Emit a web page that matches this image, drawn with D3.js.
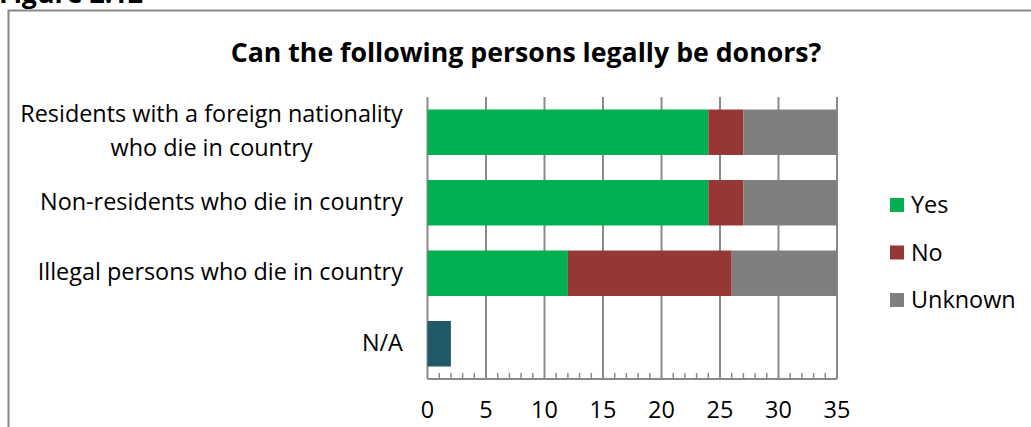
<!DOCTYPE html>
<html><head><meta charset="utf-8">
<script src="https://cdn.jsdelivr.net/npm/d3@7"></script>
<style>body{margin:0;background:#fff}svg{display:block}text{font-family:"Open Sans","Noto Sans",sans-serif;fill:#000}</style>
</head><body><svg id="c" width="1031" height="427"></svg>
<script>
const categories = [["Residents with a foreign nationality","who die in country"],["Non-residents who die in country"],["Illegal persons who die in country"],["N/A"]];
const catKeys = ["Residents","Non-residents","Illegal","N/A"];
const seriesNames = ["Yes","No","Unknown"];
const yesValues = [24,24,12,0];
const noValues = [3,3,14,0];
const unknownValues = [8,8,9,0];
const naValues = [0,0,0,2];
const tickValues = [0,5,10,15,20,25,30,35];
const colors = {Yes:"#00B050",No:"#953735",Unknown:"#7F7F7F",NA:"#215968"};

const svg = d3.select("#c");
const x = d3.scaleLinear().domain([0,35]).range([427.5,837]);
const y = d3.scaleBand().domain(catKeys).range([97,379]).paddingInner(0.355).paddingOuter(0.1775);

function fit(sel, target){const w=sel.node().getComputedTextLength();const fs=parseFloat(sel.attr("font-size"));sel.attr("font-size",fs*target/w);}

// frame
svg.append("rect").attr("x",8.5).attr("y",10.5).attr("width",1040).attr("height",430).attr("fill","none").attr("stroke","#888").attr("stroke-width",2);
// figure label (cut off at top, as in the reference)
const fl=svg.append("text").attr("x",-1).attr("y",3).attr("font-size",22).attr("font-weight","bold").text("Figure 2.12");
fit(fl,144);
// title
const t=svg.append("text").attr("x",526).attr("y",62).attr("text-anchor","middle").attr("font-size",24).attr("font-weight","bold").text("Can the following persons legally be donors?");
fit(t,591);

// gridlines
svg.append("g").selectAll("line").data(tickValues).join("line")
 .attr("x1",d=>x(d)).attr("x2",d=>x(d)).attr("y1",97).attr("y2",379)
 .attr("stroke","#8a8a8a").attr("stroke-width",2);

// bars
const stackData = catKeys.map((k,i)=>({key:k,Yes:yesValues[i],No:noValues[i],Unknown:unknownValues[i]}));
const stack = d3.stack().keys(seriesNames)(stackData);
svg.append("g").selectAll("g").data(stack).join("g").attr("fill",d=>colors[d.key])
 .selectAll("rect").data(d=>d.filter(p=>p[1]>p[0])).join("rect")
 .attr("x",d=>x(d[0])).attr("width",d=>x(d[1])-x(d[0]))
 .attr("y",d=>y(d.data.key)).attr("height",y.bandwidth());
svg.append("g").selectAll("rect").data(catKeys.map((k,i)=>({k,v:naValues[i]})).filter(d=>d.v>0)).join("rect")
 .attr("fill",colors.NA).attr("x",x(0)).attr("width",d=>x(d.v)-x(0)).attr("y",d=>y(d.k)).attr("height",y.bandwidth());

// axis line & minor ticks
svg.append("line").attr("x1",x(0)).attr("x2",x(35)).attr("y1",379).attr("y2",379).attr("stroke","#8a8a8a").attr("stroke-width",2);
const minor=d3.range(0,36).filter(v=>v%5!==0);
svg.append("g").selectAll("line").data(minor).join("line")
 .attr("x1",d=>x(d)).attr("x2",d=>x(d)).attr("y1",373).attr("y2",379).attr("stroke","#8a8a8a").attr("stroke-width",1.5);

// category labels
const lg=svg.append("g");
catKeys.forEach((k,i)=>{
  const lines=categories[i];
  const cy=y(k)+y.bandwidth()/2;
  const lh=34;
  const g=lg.append("g");
  lines.forEach((ln,j)=>{
    g.append("text").attr("x",0).attr("y",cy+7+(j-(lines.length-1)/2)*lh).attr("text-anchor","middle").attr("font-size",20).text(ln);
  });
});
const ref=lg.select("text");
const f=383/ref.node().getComputedTextLength();
const fs=20*f;
lg.selectAll("text").attr("font-size",fs);
lg.selectAll("g").each(function(){
  const g=d3.select(this);const bb=this.getBBox();
  g.selectAll("text").attr("x",403-bb.width/2);
});

// tick labels
svg.append("g").selectAll("text").data(tickValues).join("text")
 .attr("x",d=>x(d)).attr("y",418).attr("text-anchor","middle").attr("font-size",fs).text(d=>d);

// legend
const leg=svg.append("g");
seriesNames.forEach((s,i)=>{
  const yy=198+i*47.5;
  leg.append("rect").attr("x",890).attr("y",yy).attr("width",14).attr("height",14).attr("fill",colors[s]);
  leg.append("text").attr("x",911).attr("y",yy+15).attr("font-size",fs).text(s);
});
</script></body></html>
